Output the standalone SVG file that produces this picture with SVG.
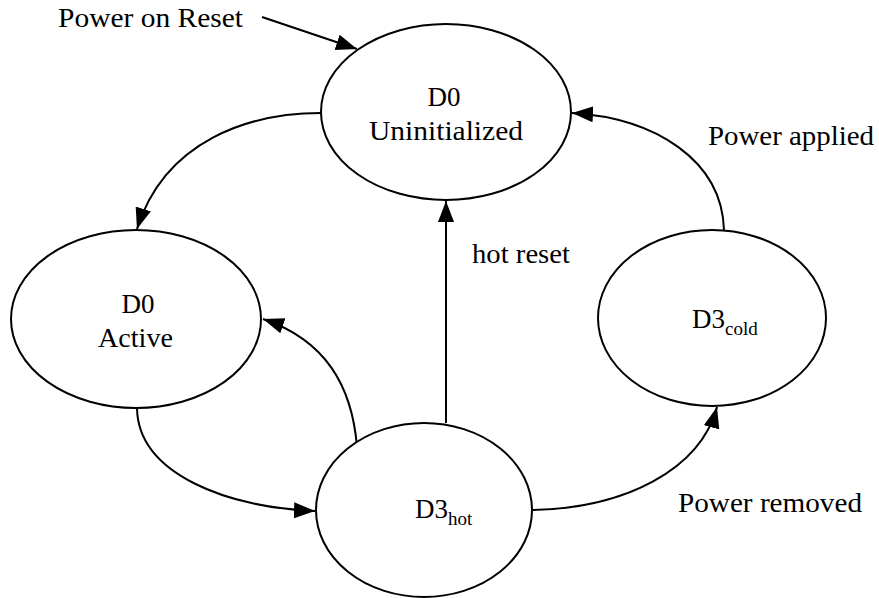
<svg xmlns="http://www.w3.org/2000/svg" width="879" height="598" viewBox="0 0 879 598">
<style>
.node{fill:#fff;stroke:#000;stroke-width:2}
.edge{fill:none;stroke:#000;stroke-width:2}
.c{text-anchor:middle}
</style>
<defs>
<marker id="ah" markerUnits="userSpaceOnUse" markerWidth="22" markerHeight="18" viewBox="0 0 22 18" refX="21" refY="9" orient="auto">
<path d="M0,1 L21,9 L0,17 Z" fill="#000"/>
</marker>
</defs>
<rect width="879" height="598" fill="#fff"/>
<g id="connectors">
<path class="edge" d="M262,17 L357,49" marker-end="url(#ah)"/>
<path class="edge" d="M321,113 C250,113 165,140 137,229" marker-end="url(#ah)"/>
<path class="edge" d="M137,408 C138,475 230,508 315,511" marker-end="url(#ah)"/>
<path class="edge" d="M357,447 C352,385 325,340 263,319" marker-end="url(#ah)"/>
<path class="edge" d="M446,423 L446,201" marker-end="url(#ah)"/>
<path class="edge" d="M533,510 C625,508 700,470 717,407" marker-end="url(#ah)"/>
<path class="edge" d="M724,230 C722,160 655,118 572,113" marker-end="url(#ah)"/>
</g>
<g font-family="Liberation Serif, Times New Roman, serif" font-size="27" fill="#000">
<g id="labels">
<text x="58" y="27" textLength="185" lengthAdjust="spacingAndGlyphs">Power on Reset</text>
<text x="708" y="145" textLength="166" lengthAdjust="spacingAndGlyphs">Power applied</text>
<text x="472" y="263" textLength="98" lengthAdjust="spacingAndGlyphs">hot reset</text>
<text x="678" y="512" textLength="184" lengthAdjust="spacingAndGlyphs">Power removed</text>
</g>
<g id="d0-uninitialized">
<ellipse class="node" cx="446" cy="112" rx="125" ry="88"/>
<text class="c" x="444" y="106">D0</text>
<text x="369" y="140" textLength="154" lengthAdjust="spacingAndGlyphs">Uninitialized</text>
</g>
<g id="d0-active">
<ellipse class="node" cx="136" cy="319" rx="125" ry="89"/>
<text class="c" x="138" y="313">D0</text>
<text x="98" y="347" textLength="75" lengthAdjust="spacingAndGlyphs">Active</text>
</g>
<g id="d3-hot">
<ellipse class="node" cx="424" cy="510" rx="108" ry="87"/>
<text x="415" y="518">D3<tspan font-size="19" dy="7">hot</tspan></text>
</g>
<g id="d3-cold">
<ellipse class="node" cx="712" cy="318" rx="114" ry="88"/>
<text x="692" y="328">D3<tspan font-size="19" dy="7">cold</tspan></text>
</g>
</g>
</svg>
